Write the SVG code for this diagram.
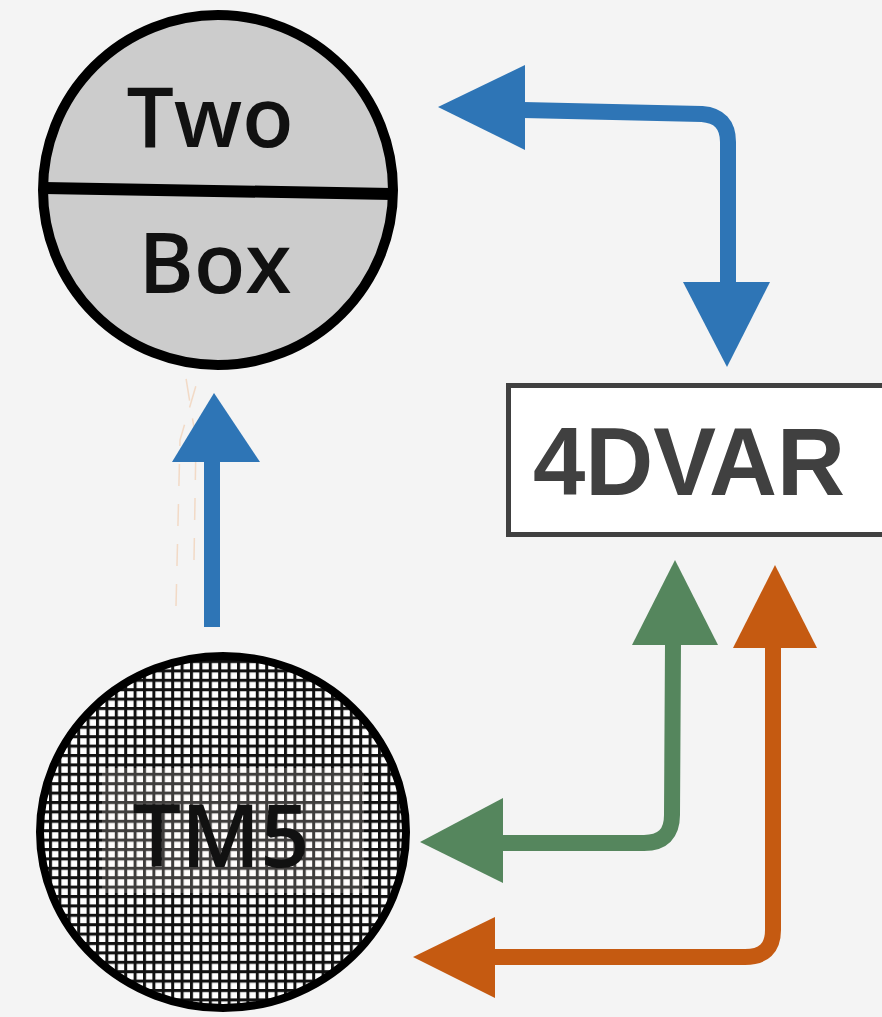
<svg xmlns="http://www.w3.org/2000/svg" width="882" height="1017" viewBox="0 0 882 1017">
  <defs>
    <pattern id="grid" width="9.4" height="9.4" patternUnits="userSpaceOnUse" x="2" y="2">
      <rect width="9.4" height="9.4" fill="#ffffff"/>
      <path d="M0,1.5 H9.4 M1.5,0 V9.4" stroke="#111111" stroke-width="3" fill="none"/>
    </pattern>
    <style>
      .label { font-family: "Open Sans", "Liberation Sans", sans-serif; font-weight: 600; fill: #111111; text-anchor: middle; }
      .shaft { fill: none; stroke-width: 16; stroke-linecap: butt; stroke-linejoin: round; }
      .blue { stroke: #2e75b6; }
      .green { stroke: #55865d; }
      .orange { stroke: #c55a11; }
      .head-blue { fill: #2e75b6; }
      .head-green { fill: #55865d; }
      .head-orange { fill: #c55a11; }
    </style>
  </defs>

  <rect width="882" height="1017" fill="#f4f4f4"/>

  <!-- faint dashed trace beside the upward arrow -->
  <g id="trace" stroke="#f2c9a8" stroke-width="1.5" fill="none" stroke-dasharray="22 18" opacity="0.6">
    <path d="M176,606 L180,440 L200,372"/>
    <path d="M194,560 L196,440 L185,372"/>
  </g>

  <g id="node-twobox">
    <circle cx="218" cy="190" r="175" fill="#cccccc" stroke="#000000" stroke-width="10"/>
    <line x1="44" y1="188" x2="392" y2="194" stroke="#000000" stroke-width="12"/>
    <text class="label" x="210" y="147" font-size="84">Two</text>
    <text class="label" x="215" y="293" font-size="84">Box</text>
  </g>

  <g id="node-4dvar">
    <rect x="508.5" y="385.5" width="390" height="149" fill="#ffffff" stroke="#404040" stroke-width="5"/>
    <text x="533" y="495" font-family="Liberation Sans, Arial, sans-serif" font-weight="700" font-size="96" fill="#404040" textLength="312" lengthAdjust="spacingAndGlyphs">4DVAR</text>
  </g>

  <g id="node-tm5">
    <ellipse cx="223" cy="832" rx="183" ry="176" fill="url(#grid)" stroke="#000000" stroke-width="8"/>
    <rect x="102" y="768" width="262" height="125" fill="#fff6ee" opacity="0.2"/>
    <text class="label" x="221" y="867" font-size="86">TM5</text>
  </g>

  <g id="connectors">
    <!-- TM5 to Two Box -->
    <path class="shaft blue" d="M212,627 L212,460"/>
    <polygon class="head-blue" points="172,462 260,462 214,393"/>

    <!-- Two Box and 4DVAR exchange -->
    <path class="shaft blue" d="M523,110 L702,114 Q728,116 728,142 L728,284"/>
    <polygon class="head-blue" points="525,65 525,150 438,107"/>
    <polygon class="head-blue" points="683,282 770,282 727,367"/>

    <!-- 4DVAR and TM5, green path -->
    <path class="shaft green" d="M673,643 L672,815 Q672,843 644,843 L501,843"/>
    <polygon class="head-green" points="632,645 718,645 675,560"/>
    <polygon class="head-green" points="503,798 503,883 420,842"/>

    <!-- 4DVAR and TM5, orange path -->
    <path class="shaft orange" d="M773,646 L773,930 Q773,957 745,957 L493,957"/>
    <polygon class="head-orange" points="733,648 817,648 775,565"/>
    <polygon class="head-orange" points="495,917 495,998 413,957"/>
  </g>
</svg>
